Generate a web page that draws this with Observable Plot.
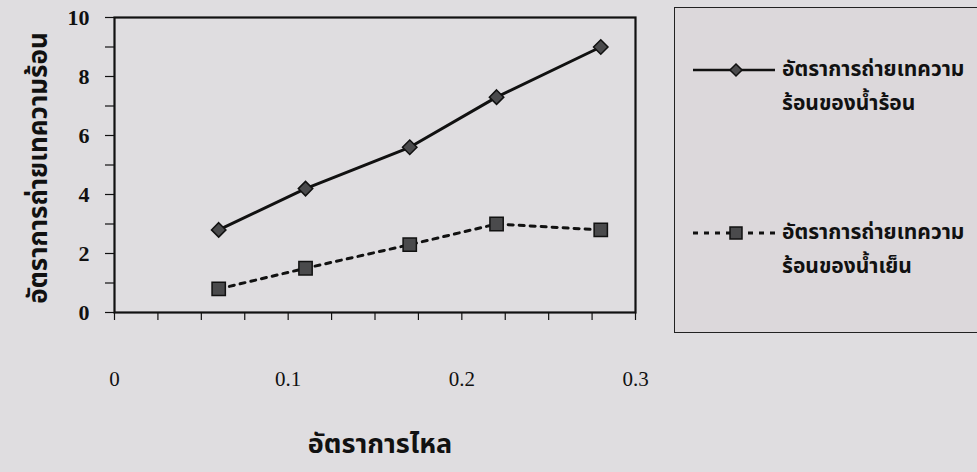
<!DOCTYPE html>
<html>
<head>
<meta charset="utf-8">
<script src="https://cdn.jsdelivr.net/npm/d3@7"></script>
<script src="https://cdn.jsdelivr.net/npm/@observablehq/plot@0.6"></script>
<style>
  body { margin: 0; background: #dfdde0; }
  #wrap { position: relative; width: 977px; height: 472px; overflow: hidden; background: #dfdde0; }
  #wrap svg { position: absolute; left: 0; top: 0; }
  .legend {
    position: absolute; left: 674px; top: 7px; width: 330px; height: 326px;
    box-sizing: border-box; border: 1.5px solid #222; background: #dcd8db;
  }
  .entry { position: absolute; left: 18px; }
  .entry svg { position: absolute; left: 0; top: 0; }
  .entry .txt {
    position: absolute; left: 89px; top: -17px; width: 230px;
    font-family: "Noto Sans Thai", "Noto Sans", sans-serif; font-weight: bold;
    font-size: 21px; line-height: 34px; color: #111; white-space: nowrap;
  }
</style>
</head>
<body>
<div id="wrap"></div>
<script>
// Flow rate and heat transfer rate of the hot and cold streams
const flowRate = [0.06, 0.11, 0.17, 0.22, 0.28];
const hotWaterRate = [2.8, 4.2, 5.6, 7.3, 9.0];
const coldWaterRate = [0.8, 1.5, 2.3, 3.0, 2.8];

const seriesLabels = [
  ["อัตราการถ่ายเทความ", "ร้อนของน้ำร้อน"],
  ["อัตราการถ่ายเทความ", "ร้อนของน้ำเย็น"]
];
const xTitle = "อัตราการไหล";
const yTitle = "อัตราการถ่ายเทความร้อน";

const xTickLabels = [0, 0.1, 0.2, 0.3];
const xTickMarks = [0, 0.025, 0.05, 0.075, 0.1, 0.125, 0.15, 0.175, 0.2, 0.225, 0.25, 0.275, 0.3];
const yTickLabels = [0, 2, 4, 6, 8, 10];
const yTickMarks = [0, 1, 2, 3, 4, 5, 6, 7, 8, 9, 10];

const hot = flowRate.map((x, i) => ({x, y: hotWaterRate[i]}));
const cold = flowRate.map((x, i) => ({x, y: coldWaterRate[i]}));

const ink = "#111";
const markerFill = "#4a4a4c";
const thaiFont = "'Noto Sans Thai', 'Noto Sans', sans-serif";

const chart = Plot.plot({
  width: 977,
  height: 472,
  marginLeft: 114,
  marginRight: 342,
  marginTop: 17,
  marginBottom: 160,
  style: {background: "transparent", fontFamily: "'Liberation Serif', serif", color: ink},
  x: {domain: [0, 0.3]},
  y: {domain: [0, 10]},
  marks: [
    Plot.axisY(yTickMarks, {tickSize: 9, text: null, label: null, stroke: ink, strokeWidth: 1.2}),
    Plot.axisY(yTickLabels, {tickSize: 0, tickPadding: 25, fontSize: 22, fontWeight: "bold", label: null}),
    Plot.axisX(xTickMarks, {tickSize: 8, text: null, label: null, stroke: ink, strokeWidth: 1.2}),
    Plot.axisX(xTickLabels, {tickSize: 0, tickPadding: 59, fontSize: 21, label: null, tickFormat: d => String(d)}),
    Plot.frame({stroke: ink, strokeWidth: 2.2}),
    Plot.line(hot, {x: "x", y: "y", stroke: ink, strokeWidth: 3}),
    Plot.line(cold, {x: "x", y: "y", stroke: ink, strokeWidth: 3, strokeDasharray: "5,6"}),
    Plot.dot(hot, {x: "x", y: "y", symbol: "diamond2", r: 6.5, fill: markerFill, stroke: ink, strokeWidth: 1.5}),
    Plot.dot(cold, {x: "x", y: "y", symbol: "square", r: 7.5, fill: markerFill, stroke: ink, strokeWidth: 1.5}),
    Plot.text([xTitle], {frameAnchor: "bottom", dx: 5, dy: 140, fontSize: 27, fontWeight: "bold", fontFamily: thaiFont, fill: ink}),
    Plot.text([yTitle], {frameAnchor: "left", textAnchor: "middle", rotate: -90, dx: -76, dy: 3, fontSize: 26, fontWeight: "bold", fontFamily: thaiFont, fill: ink})
  ]
});

const wrap = document.getElementById("wrap");
wrap.appendChild(chart);

// Legend box with line + marker swatches
const legend = document.createElement("div");
legend.className = "legend";
const entryTops = [62, 225];
seriesLabels.forEach((lines, i) => {
  const entry = document.createElement("div");
  entry.className = "entry";
  entry.style.top = entryTops[i] + "px";
  const sw = d3.create("svg").attr("width", 90).attr("height", 20).style("top", "-10px").style("overflow", "visible");
  sw.append("line").attr("x1", 0).attr("x2", 82).attr("y1", 10).attr("y2", 10)
    .attr("stroke", ink).attr("stroke-width", i === 0 ? 2.5 : 3)
    .attr("stroke-dasharray", i === 0 ? null : "5,6");
  if (i === 0) {
    sw.append("path").attr("d", "M43,4 L49,10 L43,16 L37,10 Z")
      .attr("fill", markerFill).attr("stroke", ink).attr("stroke-width", 1.5);
  } else {
    sw.append("rect").attr("x", 37).attr("y", 4).attr("width", 12).attr("height", 12)
      .attr("fill", markerFill).attr("stroke", ink).attr("stroke-width", 1.5);
  }
  entry.appendChild(sw.node());
  const txt = document.createElement("div");
  txt.className = "txt";
  txt.innerHTML = lines.join("<br>");
  entry.appendChild(txt);
  legend.appendChild(entry);
});
wrap.appendChild(legend);
</script>
</body>
</html>
